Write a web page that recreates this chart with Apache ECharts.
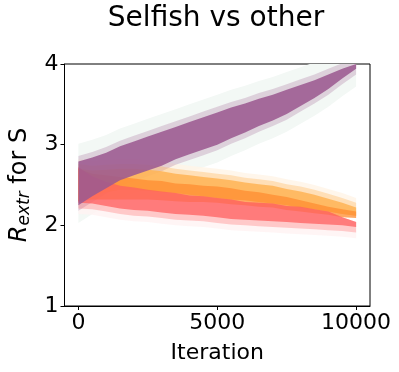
<!DOCTYPE html>
<html>
<head>
<meta charset="utf-8">
<script src="https://cdn.jsdelivr.net/npm/echarts@6/dist/echarts.min.js"></script>
<style>
  html, body { margin: 0; padding: 0; background: #fff; }
  #chart { width: 399px; height: 372px; }
</style>
</head>
<body>
<div id="chart"></div>
<script>
// iteration samples (every 500)
var iterations = [0, 500, 1000, 1500, 2000, 2500, 3000, 3500, 4000, 4500, 5000,
                  5500, 6000, 6500, 7000, 7500, 8000, 8500, 9000, 9500, 10000];

// purple, rising
var purpleMid  = [2.52, 2.60, 2.68, 2.77, 2.83, 2.89, 2.95, 3.02, 3.08, 3.14, 3.20,
                  3.27, 3.33, 3.40, 3.46, 3.53, 3.61, 3.69, 3.78, 3.88, 3.97];
var purpleHalf = [0.27, 0.24, 0.22, 0.21, 0.21, 0.21, 0.21, 0.20, 0.20, 0.20, 0.20,
                  0.19, 0.18, 0.17, 0.16, 0.15, 0.13, 0.11, 0.09, 0.06, 0.03];
// light orange, slow decline
var lightOrMid  = [2.50, 2.52, 2.55, 2.57, 2.57, 2.56, 2.54, 2.52, 2.50, 2.48, 2.46,
                   2.44, 2.42, 2.40, 2.38, 2.35, 2.32, 2.29, 2.25, 2.21, 2.17];
var lightOrHalf = [0.20, 0.16, 0.14, 0.13, 0.13, 0.13, 0.13, 0.12, 0.12, 0.12, 0.12,
                   0.12, 0.11, 0.11, 0.11, 0.10, 0.10, 0.09, 0.08, 0.07, 0.05];
// orange
var orangeMid  = [2.50, 2.48, 2.47, 2.46, 2.45, 2.44, 2.43, 2.41, 2.40, 2.39, 2.38,
                  2.36, 2.34, 2.32, 2.30, 2.27, 2.24, 2.21, 2.18, 2.15, 2.13];
var orangeHalf = [0.20, 0.16, 0.15, 0.14, 0.13, 0.12, 0.12, 0.11, 0.11, 0.10, 0.10,
                  0.10, 0.09, 0.09, 0.08, 0.08, 0.07, 0.06, 0.05, 0.05, 0.04];
// red, declining to 2
var redMid  = [2.50, 2.44, 2.39, 2.35, 2.33, 2.31, 2.29, 2.27, 2.25, 2.24, 2.22,
               2.20, 2.18, 2.17, 2.16, 2.14, 2.13, 2.11, 2.09, 2.05, 2.01];
var redHalf = [0.22, 0.17, 0.15, 0.14, 0.14, 0.13, 0.13, 0.13, 0.12, 0.12, 0.12,
               0.12, 0.11, 0.11, 0.11, 0.10, 0.10, 0.09, 0.08, 0.05, 0.03];

var xTicks = [0, 5000, 10000];

var FONT = 'DejaVu Sans';

// band drawn as one polygon via a custom series (coords through the axes)
function band(mid, half, padUp, padDown, color, opacity, z) {
    var data = [];
    for (var i = 0; i < iterations.length; i++) {
        data.push([iterations[i], mid[i] - half[i] - padDown, mid[i] + half[i] + padUp]);
    }
    return {
        type: 'custom', silent: true, z: z, clip: true,
        data: data,
        encode: { x: 0, y: [1, 2] },
        renderItem: function (params, api) {
            if (params.dataIndex !== 0) return;
            var pts = [];
            for (var i = 0; i < data.length; i++) pts.push(api.coord([data[i][0], data[i][2]]));
            for (var j = data.length - 1; j >= 0; j--) pts.push(api.coord([data[j][0], data[j][1]]));
            return {
                type: 'polygon',
                shape: { points: pts },
                style: { fill: color, opacity: opacity }
            };
        }
    };
}

var series = [
    // faint halos
    band(purpleMid, purpleHalf, 0.22, 0.22, '#f3f8f5', 1, 1),
    band(lightOrMid, lightOrHalf, 0.12, 0.0, '#fff4e6', 0.8, 1),
    band(redMid, redHalf, 0.0, 0.14, '#fff3f3', 0.8, 1),
    // fringes
    band(purpleMid, purpleHalf, 0.07, 0.07, '#9c5a91', 0.25, 2),
    band(lightOrMid, lightOrHalf, 0.06, 0.0, '#ffb455', 0.35, 2),
    band(redMid, redHalf, 0.0, 0.07, '#ff6262', 0.3, 2),
    // cores
    band(lightOrMid, lightOrHalf, 0, 0, '#ffb455', 0.85, 3),
    band(orangeMid, orangeHalf, 0, 0, '#ff8c30', 0.75, 4),
    band(redMid, redHalf, 0, 0, '#ff6060', 0.75, 5),
    band(purpleMid, purpleHalf, 0, 0, '#9c5a91', 0.88, 6)
];

var chart = echarts.init(document.getElementById('chart'));
chart.setOption({
    animation: false,
    backgroundColor: '#fff',
    title: {
        text: 'Selfish vs other',
        left: 211, top: 0, textAlign: 'center',
        textStyle: { fontFamily: FONT, fontSize: 28, fontWeight: 'normal', color: '#000' }
    },
    grid: {
        left: 60, right: 29, top: 64, bottom: 66,
        show: true, borderColor: '#000', borderWidth: 1, backgroundColor: 'transparent'
    },
    xAxis: {
        type: 'value', min: -500, max: 10500,
        name: 'Iteration', nameLocation: 'middle', nameGap: 36,
        nameTextStyle: { fontFamily: FONT, fontSize: 22, color: '#000' },
        axisLine: { show: true, onZero: false, lineStyle: { color: '#000' } },
        axisTick: { show: true, length: 4, customValues: xTicks, lineStyle: { color: '#000' } },
        axisLabel: {
            customValues: xTicks, fontFamily: FONT, fontSize: 22, color: '#000', margin: 6,
            formatter: function (v) { return String(v); }
        },
        splitLine: { show: false }
    },
    yAxis: {
        type: 'value', min: 1, max: 4, interval: 1,
        name: '{r|R}{s|extr}{n| for S}', nameLocation: 'middle', nameGap: 31,
        nameTextStyle: {
            fontFamily: FONT, color: '#000',
            rich: {
                r: { fontFamily: FONT, fontSize: 24, fontStyle: 'italic', color: '#000' },
                s: { fontFamily: FONT, fontSize: 17, fontStyle: 'italic', color: '#000',
                     verticalAlign: 'bottom', padding: [10, 0, 0, 0] },
                n: { fontFamily: FONT, fontSize: 24, color: '#000' }
            }
        },
        axisLine: { show: true, onZero: false, lineStyle: { color: '#000' } },
        axisTick: { show: true, length: 4, lineStyle: { color: '#000' } },
        axisLabel: { fontFamily: FONT, fontSize: 22, color: '#000', margin: 6 },
        splitLine: { show: false }
    },
    series: series
});
</script>
</body>
</html>
